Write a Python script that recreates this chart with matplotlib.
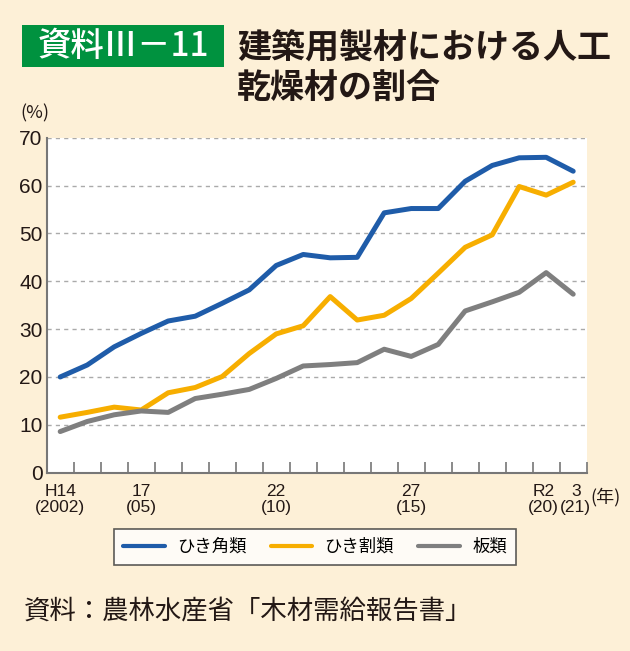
import matplotlib
matplotlib.use("Agg")
import matplotlib.pyplot as plt
from matplotlib.patches import Rectangle
from matplotlib.transforms import ScaledTranslation
from matplotlib import font_manager

plt.rcParams['font.family'] = ['Noto Sans CJK JP', 'DejaVu Sans']

# data: share of kiln-dried lumber (%), H14 (2002) .. R3 (2021)
years = list(range(20))
tick_labels = ['H14\n(2002)', '17\n(05)', '22\n(10)', '27\n(15)', 'R2\n(20)', '3\n(21)']
tick_pos = [0, 3, 8, 13, 18, 19]
kakurui = [20.0, 22.5, 26.3, 29.1, 31.7, 32.7, 35.4, 38.2, 43.3, 45.6,
           44.9, 45.0, 54.3, 55.2, 55.2, 60.9, 64.2, 65.8, 65.9, 63.0]
warirui = [11.6, 12.6, 13.7, 13.1, 16.7, 17.8, 20.1, 24.9, 29.0, 30.7,
           36.8, 31.9, 32.9, 36.4, 41.7, 47.1, 49.7, 59.8, 58.0, 60.7]
itarui = [8.6, 10.7, 12.1, 12.9, 12.6, 15.5, 16.4, 17.4, 19.7, 22.3,
          22.6, 23.0, 25.8, 24.3, 26.8, 33.8, 35.7, 37.7, 41.8, 37.3]
names = ['ひき角類', 'ひき割類', '板類']
colors = ['#1F5CA9', '#F7AE00', '#7F7F7F']

# narrow font for the numbers if there is one
names_installed = {f.name for f in font_manager.fontManager.ttflist}
num_font = 'Liberation Sans Narrow' if 'Liberation Sans Narrow' in names_installed else 'Liberation Sans'

bg = '#FDF0D7'
W, H = 630, 651
fig = plt.figure(figsize=(6.3, 6.51), dpi=100, facecolor=bg)

def fx(x):
    return x / W

def fy(y):
    return 1 - y / H

ax = fig.add_axes([fx(46.7), fy(472.7), fx(586.7) - fx(46.7), fy(137.7) - fy(472.7)])
ax.set_facecolor('white')

for vals, c, n in zip([kakurui, warirui, itarui], colors, names):
    ax.plot(years, vals, color=c, linewidth=3.6, label=n, solid_capstyle='round',
            solid_joinstyle='round', zorder=3)

ax.set_xlim(-0.5, 19.5)
ax.set_ylim(0, 70)
ax.set_yticks(range(0, 71, 10))
ax.yaxis.grid(True, linestyle=(0, (3, 3)), color='#AAAAAA', linewidth=1)
ax.set_axisbelow(True)

ax.set_xticks(tick_pos)
ax.set_xticklabels(tick_labels, fontsize=12.5, linespacing=1.1, color='#231815',
                   family=num_font)
ax.set_xticks([i + 0.5 for i in range(-1, 20)], minor=True)
ax.tick_params(axis='x', which='major', length=0, pad=8)
ax.tick_params(axis='x', which='minor', direction='in', length=8, width=1.2, color='#777777')
ax.tick_params(axis='y', length=0, pad=3)
for lab in ax.get_yticklabels():
    lab.set_family(num_font)
    lab.set_fontsize(15)
    lab.set_color('#231815')

# R2 and 3 sit side by side: nudge them apart a little
xlabs = ax.get_xticklabels()
xlabs[4].set_transform(xlabs[4].get_transform() + ScaledTranslation(-2.5 / 100, 0, fig.dpi_scale_trans))
xlabs[5].set_transform(xlabs[5].get_transform() + ScaledTranslation(2.5 / 100, 0, fig.dpi_scale_trans))

for s in ['top', 'right']:
    ax.spines[s].set_visible(False)
for s in ['left', 'bottom']:
    ax.spines[s].set_color('#777777')
    ax.spines[s].set_linewidth(1.5)

leg = fig.legend(loc='center', bbox_to_anchor=(fx(315), fy(547)), ncol=3,
                 fontsize=12.5, frameon=True, fancybox=False, handlelength=2.4,
                 columnspacing=1.4, handletextpad=0.7, borderpad=0.5, borderaxespad=0)
leg.get_frame().set_edgecolor('#333333')
leg.get_frame().set_linewidth(1.2)
for line in leg.get_lines():
    line.set_linewidth(3)

# title block
fig.patches.append(Rectangle((fx(22), fy(67)), fx(224) - fx(22), fy(25) - fy(67),
                             transform=fig.transFigure, facecolor='#00923F',
                             edgecolor='none'))
fig.text(fx(123), fy(46), '資料Ⅲ－11', color='white', fontsize=24, fontweight='medium',
         ha='center', va='center')
fig.text(fx(237), fy(48), '建築用製材における人工', fontsize=24.5, fontweight='bold',
         ha='left', va='center', color='#231815')
fig.text(fx(237), fy(88), '乾燥材の割合', fontsize=24.5, fontweight='bold',
         ha='left', va='center', color='#231815')

fig.text(fx(20), fy(113), '(%)', fontsize=13, ha='left', va='center', color='#231815')
fig.text(fx(590), fy(497), '(年)', fontsize=13, ha='left', va='center', color='#231815')
fig.text(fx(24), fy(612), '資料：農林水産省「木材需給報告書」', fontsize=19,
         ha='left', va='center', color='#231815')

plt.savefig('out.png', dpi=100, facecolor=bg)
